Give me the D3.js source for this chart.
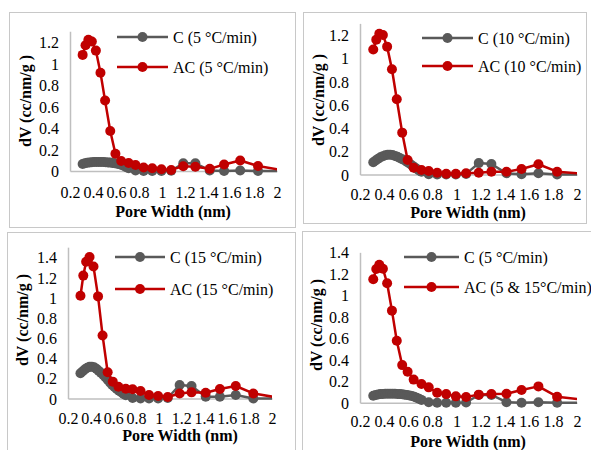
<!DOCTYPE html>
<html><head><meta charset="utf-8">
<script src="https://cdn.jsdelivr.net/npm/d3@7"></script>
<style>
html,body{margin:0;padding:0;background:#fff;}
svg{display:block;}
text{font-family:"Liberation Serif","Times New Roman",serif;fill:#000;}
</style></head>
<body>
<svg id="chart" width="591" height="450"></svg>
<script>
// ---- Data ----
const xTicks = [0.2,0.4,0.6,0.8,1,1.2,1.4,1.6,1.8,2];
const poreWidthAC = [0.31,0.335,0.36,0.39,0.425,0.465,0.505,0.55,0.595,0.645,0.71,0.77,0.84,0.915,0.995,1.08,1.185,1.29,1.415,1.54,1.68,1.835,2.05];
const poreWidthC = [0.31,0.33,0.35,0.37,0.39,0.41,0.43,0.45,0.47,0.49,0.51,0.53,0.55,0.57,0.59,0.61,0.63,0.65,0.67,0.69,0.71,0.77,0.84,0.915,0.995,1.08,1.185,1.29,1.415,1.54,1.68,1.835,2.05];

const c5  = [0.065,0.072,0.077,0.080,0.082,0.083,0.084,0.084,0.084,0.083,0.082,0.080,0.078,0.075,0.072,0.068,0.062,0.055,0.046,0.036,0.026,0.005,0,0,0,0.002,0.072,0.072,0.005,0,0.005,0,0];
const c10 = [0.105,0.12,0.135,0.148,0.158,0.165,0.17,0.17,0.167,0.16,0.152,0.142,0.132,0.122,0.108,0.095,0.08,0.065,0.05,0.035,0.024,0.003,0,0,0,0.005,0.098,0.09,0.01,0.002,0.01,0,0];
const c15 = [0.25,0.27,0.29,0.305,0.315,0.315,0.31,0.295,0.275,0.255,0.235,0.21,0.185,0.16,0.135,0.115,0.095,0.078,0.062,0.045,0.032,0.005,0,0,0,0.005,0.134,0.124,0.018,0.018,0.035,0,0];

const ac5    = [1.08,1.17,1.22,1.205,1.12,0.914,0.655,0.372,0.16,0.093,0.075,0.056,0.032,0.025,0.017,0.01,0.045,0.04,0.02,0.06,0.098,0.047,0.007];
const ac10   = [1.075,1.16,1.21,1.20,1.10,0.905,0.647,0.36,0.125,0.058,0.039,0.03,0.015,0.007,0.007,0.01,0.015,0.024,0.024,0.047,0.088,0.024,0.006];
const ac15   = [1.018,1.218,1.356,1.403,1.308,1.012,0.625,0.26,0.167,0.117,0.097,0.091,0.075,0.035,0.025,0.015,0.05,0.061,0.057,0.094,0.124,0.05,0.009];
const ac5_15 = [1.15,1.245,1.285,1.248,1.112,0.857,0.577,0.35,0.289,0.215,0.174,0.143,0.092,0.08,0.059,0.053,0.075,0.081,0.083,0.118,0.152,0.056,0.027];

const cLabels  = ["C (5 °C/min)","C (10 °C/min)","C (15 °C/min)","C (5 °C/min)"];
const acLabels = ["AC (5 °C/min)","AC (10 °C/min)","AC (15 °C/min)","AC (5 & 15°C/min)"];
const cSeries  = [c5, c10, c15, c5];
const acSeries = [ac5, ac10, ac15, ac5_15];
const yMaxes   = [1.3, 1.3, 1.5, 1.4];
const xTitle = "Pore Width (nm)";
const yTitle = "dV (cc/nm/g )";

// ---- Layout ----
const layouts = [
  {frame:[9,12,286,215],  l:70,  r:277, b:171,   unit:107.5,  yt:[25,101],  xt:[173,217],   xtick:26.5, leg:{x1:117,x2:168,y1:37,y2:67}},
  {frame:[303,12,283,211],l:360, r:577, b:174.5, unit:116.25, yt:[318,100], xt:[468,218],   xtick:25,   leg:{x1:422,x2:473,y1:38,y2:66}},
  {frame:[7,232,288,240], l:68,  r:272, b:398.5, unit:100.9,  yt:[22,320],  xt:[180,441],   xtick:25.5, leg:{x1:115,x2:165,y1:257,y2:289}},
  {frame:[302,231,300,240],l:360,r:577, b:402.7, unit:107.4,  yt:[316,325], xt:[468,447],   xtick:24.5, leg:{x1:404,x2:459,y1:257,y2:287}}
];

const GRAY = "#595959", RED = "#c00000", AXIS = "#bfbfbf";
const svg = d3.select("#chart");
const fmt = d => String(+d.toFixed(1));

layouts.forEach((L, i) => {
  const g = svg.append("g");
  g.append("rect").attr("x",L.frame[0]+0.5).attr("y",L.frame[1]+0.5)
    .attr("width",L.frame[2]).attr("height",L.frame[3])
    .attr("fill","none").attr("stroke","#c8c8c8").attr("stroke-width",1);

  const ymax = yMaxes[i];
  const x = d3.scaleLinear().domain([0.2,2]).range([L.l, L.r]);
  const y = d3.scaleLinear().domain([0,ymax]).range([L.b, L.b - ymax*L.unit]);

  // axes
  const xa = g.append("g").attr("transform",`translate(0,${L.b})`)
    .call(d3.axisBottom(x).tickValues(xTicks).tickFormat(fmt).tickSize(0));
  xa.attr("font-family",null);
  xa.select(".domain").attr("stroke",AXIS).attr("stroke-width",1.5);
  xa.selectAll("text").attr("dy",null).attr("y",L.xtick).attr("font-size",16)
    .attr("fill","#000");

  const ya = g.append("g").attr("transform",`translate(${L.l},0)`)
    .call(d3.axisLeft(y).tickValues(d3.range(0, ymax+0.001, 0.2).map(v=>+v.toFixed(1)).filter(v=>v<=ymax)).tickFormat(fmt).tickSize(0).tickPadding(11));
  ya.attr("font-family",null);
  ya.select(".domain").attr("stroke",AXIS).attr("stroke-width",1.5);
  ya.selectAll("text").attr("font-size",16).attr("fill","#000").attr("dy","0.35em");

  // titles
  g.append("text").attr("x",L.xt[0]).attr("y",L.xt[1]).attr("text-anchor","middle")
    .attr("font-size",16).attr("font-weight","bold").text(xTitle);
  g.append("text").attr("transform",`translate(${L.yt[0]},${L.yt[1]}) rotate(-90)`)
    .attr("text-anchor","middle").attr("dy","0.35em")
    .attr("font-size",16).attr("font-weight","bold").text(yTitle);

  // clip
  const cid = "clip"+i;
  svg.append("clipPath").attr("id",cid).append("rect")
    .attr("x",L.l-20).attr("y",0).attr("width",x(2)-L.l+20).attr("height",450);

  const line = d3.line().x(d=>x(d[0])).y(d=>y(d[1]));
  const plot = g.append("g").attr("clip-path",`url(#${cid})`);
  const series = [
    {xs:poreWidthC, ys:cSeries[i], color:GRAY},
    {xs:poreWidthAC, ys:acSeries[i], color:RED}
  ];
  series.forEach(s => {
    const pts = s.xs.map((v,k)=>[v, s.ys[k]]);
    plot.append("path").datum(pts).attr("d",line)
      .attr("fill","none").attr("stroke",s.color).attr("stroke-width",2.5).attr("stroke-linejoin","round");
    plot.selectAll(null).data(pts).enter().append("circle")
      .attr("cx",d=>x(d[0])).attr("cy",d=>y(d[1])).attr("r",5).attr("fill",s.color);
  });

  // legend
  const leg = [{lab:cLabels[i], color:GRAY, yy:L.leg.y1},{lab:acLabels[i], color:RED, yy:L.leg.y2}];
  leg.forEach(e => {
    g.append("line").attr("x1",L.leg.x1).attr("x2",L.leg.x2).attr("y1",e.yy).attr("y2",e.yy)
      .attr("stroke",e.color).attr("stroke-width",2.5);
    g.append("circle").attr("cx",(L.leg.x1+L.leg.x2)/2).attr("cy",e.yy).attr("r",5).attr("fill",e.color);
    g.append("text").attr("x",L.leg.x2+5).attr("y",e.yy).attr("dy","0.35em")
      .attr("font-size",16).text(e.lab);
  });
});
</script>
</body></html>
